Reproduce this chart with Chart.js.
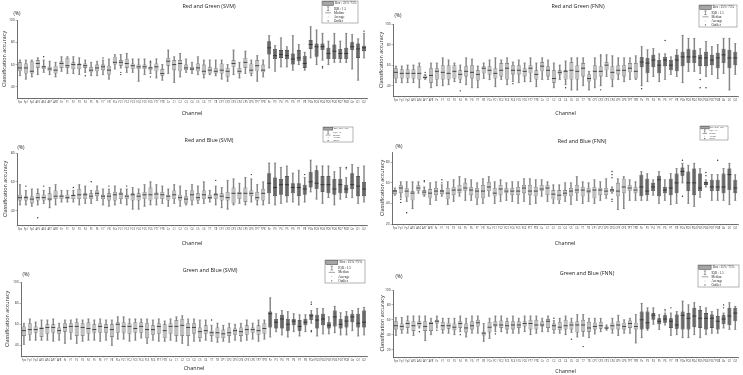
<!DOCTYPE html>
<html><head><meta charset="utf-8">
<script src="https://cdn.jsdelivr.net/npm/chart.js@4.4.1/dist/chart.umd.min.js"></script>
<style>
html,body{margin:0;padding:0;background:#fff;width:743px;height:375px;overflow:hidden;position:relative}
canvas{position:absolute}
</style></head><body>
<canvas id="c1"></canvas><canvas id="c2"></canvas><canvas id="c3"></canvas>
<canvas id="c4"></canvas><canvas id="c5"></canvas><canvas id="c6"></canvas>
<script>
// ---------------- DATA ----------------
const channels = ['Fpz','Fp1','Fp2','AF3','AF4','AF7','AF8','Fz','F1','F2','F3','F4','F5','F6','F7','F8',
  'FCz','FC1','FC2','FC3','FC4','FC5','FC6','FT7','FT8','Cz','C1','C2','C3','C4','C5','C6','T7','T8',
  'CP1','CP2','CP3','CP4','CP5','CP6','TP7','TP8','Pz','P3','P4','P5','P6','P7','P8',
  'POz','PO3','PO4','PO5','PO6','PO7','PO8','Oz','O1','O2'];
const posteriorStart = 'Pz';
const legendLabels = ['Box : 25%~75%','IQR : 1.5','Median','Average','Outlier'];

// rows: [whisker min, Q1, median, Q3, whisker max]
const redGreenSVM = [
[50,54,57,62,64],[47,52,57,61,64],[49,52,54,63,64],[51,57,61,64,66],[53,56,58,59,64],[51,54,56,58,63],[49,52,55,59,62],
[54,57,61,63,67],[52,57,59,66,67],[52,56,60,62,67],[51,56,60,61,66],[53,57,59,61,64],[50,53,55,58,62],[50,54,57,60,63],[51,55,58,60,64],[47,51,55,59,65],
[56,60,62,67,69],[57,59,62,64,69],[53,57,61,65,70],[53,56,59,61,65],[45,56,58,60,65],[51,56,58,60,65],[52,55,57,58,62],[48,54,58,61,65],[46,50,52,56,60],
[52,59,63,66,73],[44,55,60,64,67],[49,54,61,64,70],[53,55,57,60,65],[52,55,56,58,62],[51,54,57,61,67],[48,51,54,60,64],[51,52,55,58,64],[50,52,54,57,64],
[47,52,55,61,64],[45,49,54,57,60],[51,58,61,64,73],[48,52,54,57,62],[52,57,62,66,72],[50,52,55,61,64],[45,54,59,64,68],[49,53,55,60,64],
[57,69,75,81,86],[54,65,68,74,77],[58,66,69,73,84],[58,65,68,73,76],[55,60,65,70,86],[60,63,66,73,78],[55,57,61,68,71],
[66,74,78,82,94],[60,67,76,79,91],[64,73,76,79,88],[60,65,70,75,81],[62,65,72,78,88],[62,65,70,74,81],[62,65,70,75,88],
[56,73,76,80,87],[46,66,74,79,83],[66,72,75,77,88]];
const redGreenSVMOutliers = [['AF4',67],['F4',50],['F7',66],['FC1',53],['FC1',51],['FC6',63],['FC6',49],['PO4',58],['PO4',57],['O2',90]];

const redGreenFNN = [
[43,47,53,57,59],[43,47,52,56,59],[43,47,52,56,60],[43,47,52,56,60],[38,46,52,59,62],[46,47,48,50,51],[38,43,50,57,62],
[40,46,54,57,62],[40,46,53,60,67],[41,46,52,60,65],[44,47,54,60,62],[43,46,51,55,60],[41,49,54,59,67],[38,47,53,60,66],[38,45,51,55,59],[47,52,57,59,62],
[46,51,55,59,65],[39,47,52,57,67],[46,49,55,62,65],[41,46,57,62,67],[44,51,55,60,63],[43,51,55,60,65],[44,49,54,57,62],[44,52,57,60,67],[39,46,51,55,62],
[46,54,59,63,67],[46,49,55,59,65],[38,43,47,55,62],[46,51,53,55,60],[41,46,54,55,64],[36,46,55,63,67],[36,46,54,60,67],[40,49,57,62,67],[36,44,47,51,54],
[38,46,54,60,67],[40,49,54,59,69],[49,55,60,63,70],[39,46,53,59,69],[46,51,55,60,67],[44,49,55,60,67],[46,53,57,62,67],[46,47,54,62,69],
[40,58,63,68,78],[44,52,62,67,75],[49,58,65,70,76],[44,52,60,65,71],[46,59,65,68,71],[51,55,60,65,68],[49,54,65,70,75],
[43,59,68,73,89],[54,62,68,76,86],[54,62,68,75,86],[52,59,67,70,76],[49,59,67,73,83],[51,60,65,70,78],[47,57,67,72,80],
[52,62,70,76,86],[36,57,67,75,86],[51,60,67,73,81]];
const redGreenFNNOutliers = [['AF7',53],['F4',35],['FC4',42],['C4',38],['CP2',70],['CP2',36],['Pz',37],['P6',84],['PO5',46],['PO5',38],['PO6',38]];

const redBlueSVM = [
[44,47,49,51,58],[44,47,49,50,54],[43,45,48,50,55],[44,47,49,52,55],[45,47,49,51,54],[42,47,48,52,56],[44,48,50,54,58],
[46,48,50,51,54],[46,48,49,51,54],[46,48,50.5,51,54],[44,48,51,55,58],[45,48,51,52,57],[45,48,50,52,54],[47,50,52,54,57],[44,48,50,51,55],[43,47,50,52,55],
[44,47,51,53,57],[45,48,51.5,52.5,55],[44,48,50,51,55],[41,47,51,52,56],[41,47,50,52,55],[43,48,51,53,58],[44,47,51,56,60],[44,48,51.5,52.5,58],[45,48,51,53,57],
[43,47,50,51,55],[45,48,51,54,58],[43,47,49,51,57],[44,45,48,50,54],[44,47,51,54,58],[45,47,49,52,57],[45,48,51,54,60],[46,48,49,51,54],[44,48,51,52,57],
[42,47,50,52,56],[41,47,49,53,61],[44,45,52,56,62],[45,48,52,53,59],[44,46,52,56,63],[46,50,52,54,62],[44,47,49,53,58],[44,47,52,55,60],
[45,52,59,66,73],[44,50,56,63,73],[45,51,58,62,70],[46,50,58,64,71],[46,52,56,59,66],[44,50,56,59,68],[46,51,55,58,63],
[53,56,60,67,75],[48,55,59,68,71],[45,53,58,64,71],[49,52,58,64,71],[44,51,55,62,67],[48,52,58,62,70],[49,52,55,58,63],
[49,55,58,66,72],[45,50,57,64,70],[46,50,55,60,71]];
const redBlueSVMOutliers = [['Fp1',57],['AF4',57],['AF3',35],['F2',56],['F5',60],['F8',57],['FC2',57],['T8',61],['CP6',65],['P8',65],['PO8',70],['PO8',69]];

const redBlueFNN = [
[48,49,52,53,55],[46,50,55,58,61],[42,46,52,55,61],[35,43,50,52,61],[50,52,55,58,61],[47,48,51,53,56],[39,45,50,54,60],
[43,48,52,55,61],[47,49,52,53,58],[39,44,50,55,61],[42,48,53,56,63],[47,50,53,58,66],[43,52,55,60,64],[43,48,53,56,63],[39,45,52,55,60],[40,45,52,58,64],
[47,52,56,61,66],[40,47,50,55,61],[42,48,54,58,63],[43,50,52,55,60],[42,48,52,55,61],[40,48,52,56,61],[42,50,55,58,64],[39,48,52,58,64],[40,47,52,56,63],
[47,52,54,58,63],[42,48,55,58,61],[40,44,49,53,58],[40,43,48,53,58],[42,47,50,53,60],[39,47,52,55,60],[43,50,53,58,66],[40,47,53,56,61],[42,50,52,55,60],
[40,45,53,56,63],[43,48,53,55,61],[45,48,52,55,64],[50,51,53,54,56],[34,47,52,60,64],[35,50,56,64,66],[43,52,55,58,63],[43,50,53,56,61],
[43,47,56,68,71],[43,48,52,64,69],[48,52,56,60,63],[40,47,63,67,71],[43,50,53,56,63],[39,48,55,64,69],[40,50,60,69,74],
[60,67,71,75,79],[40,52,60,71,77],[37,48,60,74,79],[46,52,55,69,74],[56,58,60,61,63],[43,52,56,63,68],[43,52,56,63,68],
[43,50,56,69,74],[39,53,68,74,79],[43,50,55,63,68]];
const redBlueFNNOutliers = [['Fp1',44],['Fp1',41],['Fp2',31],['AF7',61],['AF7',62],['F1',63],['F1',60],['CP4',71],['CP4',68],['CP4',65],['CP4',44],['CP4',42],['POz',82],['POz',47],['PO8',82],['PO6',70],['PO6',67]];

const greenBlueSVM = [
[41,49,54,58,61],[45,50,55,61,65],[45,52,55,58,62],[45,48,56,57.5,64],[45,51,57,60,64],[44,52,57,60,65],[45,51,54,57,61],
[42,53,57,61,64],[46,52,58,61,64],[42,49,58,62,65],[44,49,57,61,64],[45,51,56,62,65],[45,52,55,60,64],[44,52,58,61,65],[45,52,57,60,64],[40,48,55,60,64],
[46,52,60,62,67],[46,52,58,62,67],[44,51,58,61,65],[45,52,56,62,65],[47,52,58,62,65],[42,47,55,61,65],[45,50,55,59,64],[44,51,58,61,65],[44,47,54,60,63],
[45,51,58,61,65],[44,49,58,64,67],[42,49,59,65,68],[40,49,57,61,65],[44,51,57,61,65],[44,47,53,57,64],[45,51,54,59,64],[44,49,52,54,59],[43,47,52,57,61],
[44,47,51,55,59],[43,49,52,57,61],[45,50,54,56,60],[44,49,53,57,61],[45,50,55,59,64],[46,52,55,57,61],[44,50,54,59,64],[46,51,56,61,64],
[48,57,70,72,85],[53,56,62,65,70],[50,56,65,69,73],[48,54,60,65,72],[53,59,63,65,70],[49,54,58,64,69],[53,59,62,65,69],
[61,64,68,70,73],[49,56,64,69,75],[51,59,65,70,75],[51,56,59,62,67],[52,58,67,73,77],[50,56,60,65,71],[50,57,63,68,72],
[54,62,67,70,73],[49,57,61,70,75],[50,57,62,73,76]];
const greenBlueSVMOutliers = [['T7',64],['POz',81],['POz',79],['POz',54],['POz',53]];

const greenBlueFNN = [
[39,47,52,58,63],[42,46,51,55,63],[42,49,55,59,65],[39,45,52,58,65],[49,51,55,58,65],[32,45,51,58,65],[40,45,55,57,62],
[49,55,58,60,65],[42,46,52,57,62],[42,48,52,56,62],[40,46,50,55,62],[44,49,55,58,65],[37,43,49,55,62],[42,47,52,58,65],[42,51,56,60,65],[31,39,42,44,55],
[35,43,50,57,62],[44,51,53,58,65],[44,49,53,59,65],[42,47,52,58,62],[42,47,53,58,65],[42,49,53,58,62],[44,51,55,58,65],[40,47,55,60,65],[42,47,53,60,65],
[44,51,53,58,62],[44,49,58,61,65],[42,46,52,55,59],[42,46,50,57,62],[40,47,52,60,65],[43,47,53,57,62],[37,43,53,58,67],[38,44,53,60,67],[36,44,49,57,62],
[41,47,51,56,62],[44,48,52,57,62],[46,48,49,51,53],[42,47,52,56,62],[39,47,53,58,66],[42,47,51,56,60],[42,49,55,59,62],[29,47,51,56,67],
[36,47,60,71,82],[46,48,56,71,76],[54,60,66,69,76],[47,54,58,62,67],[53,56,61,66,69],[39,49,58,62,69],[40,48,53,67,71],
[36,47,66,71,85],[36,47,62,69,80],[40,50,65,76,83],[36,49,62,73,78],[40,47,62,69,76],[42,49,62,67,71],[42,47,58,65,74],
[49,54,61,66,69],[47,53,65,76,83],[47,58,69,76,78]];
const greenBlueFNNOutliers = [['AF4',44],['Fz',46],['F4',40],['FC1',41],['C2',62],['C5',34],['T7',24],['P6',74],['P6',72],['P7',76],['Oz',80],['Oz',76]];

const ticksRG = [40,60,80,100];
const ticksRBsvm = [40,60,80];
const ticksRBfnn = [20,40,60,80];
const ticksGBsvm = [40,60,80,100];
const ticksGBfnn = [20,40,60,80,100];

// ---------------- LAYOUT / STYLE ----------------
const panels = [
 {id:'c1', title:'Red and Green (SVM)', stats:redGreenSVM, outliers:redGreenSVMOutliers, yMin:30, yMax:100, yTicks:ticksRG,
  box:{x:0,y:0,w:372,h:125}, area:{l:17,t:20,r:367,b:98}, titlePos:[209,6], pctPos:[17,14], channelY:113, yTitleX:4, legend:{x:322,y:1,w:36,h:22}},
 {id:'c2', title:'Red and Green (FNN)', stats:redGreenFNN, outliers:redGreenFNNOutliers, yMin:30, yMax:100, yTicks:ticksRG,
  box:{x:372,y:0,w:371,h:125}, area:{l:393,t:24,r:740,b:96}, titlePos:[578,6], pctPos:[398,16], channelY:113, yTitleX:381, legend:{x:699,y:5,w:38,h:22}},
 {id:'c3', title:'Red and Blue (SVM)', stats:redBlueSVM, outliers:redBlueSVMOutliers, yMin:30, yMax:80, yTicks:ticksRBsvm,
  box:{x:0,y:125,w:372,h:125}, area:{l:17,t:153,r:367,b:225}, titlePos:[209,140], pctPos:[21,148], channelY:243, yTitleX:5, legend:{x:323,y:127,w:30,h:15}},
 {id:'c4', title:'Red and Blue (FNN)', stats:redBlueFNN, outliers:redBlueFNNOutliers, yMin:20, yMax:90, yTicks:ticksRBfnn,
  box:{x:372,y:125,w:371,h:125}, area:{l:392,t:152,r:739,b:224}, titlePos:[582,141], pctPos:[399,147], channelY:243, yTitleX:382, legend:{x:700,y:126,w:28,h:14}},
 {id:'c5', title:'Green and Blue (SVM)', stats:greenBlueSVM, outliers:greenBlueSVMOutliers, yMin:30, yMax:100, yTicks:ticksGBsvm,
  box:{x:0,y:250,w:372,h:125}, area:{l:21,t:282,r:367,b:356}, titlePos:[210,270], pctPos:[26,275], channelY:368, yTitleX:7, legend:{x:325,y:260,w:40,h:23}},
 {id:'c6', title:'Green and Blue (FNN)', stats:greenBlueFNN, outliers:greenBlueFNNOutliers, yMin:10, yMax:100, yTicks:ticksGBfnn,
  box:{x:372,y:250,w:371,h:125}, area:{l:393,t:290,r:740,b:357}, titlePos:[587,273], pctPos:[399,277], channelY:371, yTitleX:382, legend:{x:698,y:265,w:41,h:22}}
];

const SANS = '"Open Sans", "DejaVu Sans", sans-serif';
const SERIF = '"Liberation Serif", serif';
const C = {
  lightFill:'#c0c0c0', lightBorder:'#6e6e6e', darkFill:'#686868', darkBorder:'#383838',
  whisker:'#858585', median:'#262626', outlier:'#2e2e2e', axis:'#4a4a4a', text:'#222222'
};
const BAR_PCT = 0.68;

const decoPlugin = {
  id:'deco',
  afterDraw(chart, args, o) {
    const p = o.panel; if (!p) return;
    const ctx = chart.ctx, ox = p.box.x, oy = p.box.y;
    ctx.save();
    ctx.fillStyle = C.text; ctx.textAlign = 'center'; ctx.textBaseline = 'middle';
    ctx.font = '5.4px ' + SANS;
    ctx.fillText(p.title, p.titlePos[0]-ox, p.titlePos[1]-oy);
    ctx.font = '4.8px ' + SANS;
    ctx.fillText('(%)', p.pctPos[0]-ox, p.pctPos[1]-oy);
    // legend box
    const L = p.legend, lx = L.x-ox, ly = L.y-oy;
    ctx.strokeStyle = '#6a6a6a'; ctx.lineWidth = 0.5;
    ctx.strokeRect(lx, ly, L.w, L.h);
    const rh = L.h/5.4, fs = rh*0.8;
    legendLabels.forEach((lab, i) => {
      const cy = ly + rh*(i + (i===0?0.6:0.9));
      const ix = lx + L.w*0.17;
      ctx.strokeStyle = '#444'; ctx.fillStyle = '#444'; ctx.lineWidth = 0.5;
      if (i===0) {
        ctx.fillStyle = '#a5a5a5';
        ctx.fillRect(lx+0.8, cy-rh*0.5, L.w*0.3, rh*1.0);
        ctx.strokeRect(lx+0.8, cy-rh*0.5, L.w*0.3, rh*1.0);
      } else if (i===1) {
        ctx.beginPath();
        ctx.moveTo(ix, cy-rh*0.45); ctx.lineTo(ix, cy+rh*0.45);
        ctx.moveTo(ix-rh*0.3, cy-rh*0.45); ctx.lineTo(ix+rh*0.3, cy-rh*0.45);
        ctx.moveTo(ix-rh*0.3, cy+rh*0.45); ctx.lineTo(ix+rh*0.3, cy+rh*0.45);
        ctx.stroke();
      } else if (i===2) {
        ctx.beginPath(); ctx.moveTo(ix-L.w*0.08, cy); ctx.lineTo(ix+L.w*0.08, cy); ctx.stroke();
      } else if (i===3) {
        ctx.beginPath(); ctx.arc(ix, cy, 0.35, 0, Math.PI*2); ctx.fill();
      } else {
        ctx.beginPath(); ctx.arc(ix, cy, 0.6, 0, Math.PI*2); ctx.fill();
      }
      ctx.fillStyle = '#1e1e1e'; ctx.textAlign = 'left';
      ctx.font = fs.toFixed(2) + 'px ' + SERIF;
      ctx.fillText(lab, lx + L.w*(i===0?0.36:0.33), cy);
    });
    ctx.restore();
  }
};

function buildPanel(p) {
  const cv = document.getElementById(p.id);
  cv.width = p.box.w; cv.height = p.box.h;
  cv.style.left = p.box.x + 'px'; cv.style.top = p.box.y + 'px';
  const ox = p.box.x, oy = p.box.y;
  const area = {l:p.area.l-ox, t:p.area.t-oy, r:p.area.r-ox, b:p.area.b-oy};
  const tFont = 5.4, lh = tFont*1.2;
  const padLeft = Math.max(0, p.yTitleX - ox - lh/2);
  const yAxisW = area.l - padLeft;
  const xAxisH = (p.channelY - oy) - area.b + lh/2;
  const padBottom = Math.max(0, p.box.h - area.b - xAxisH);
  const darkIdx = channels.indexOf(posteriorStart);
  const isDark = i => i >= darkIdx;
  const catW = (area.r - area.l) / channels.length;
  const halfBox = catW * BAR_PCT / 2;

  const datasets = [
    { type:'bar', data:p.stats.map(s => [s[0], s[4]]), backgroundColor:C.whisker,
      barThickness:0.8, grouped:false, order:6 },
    { type:'line', showLine:false, order:5,
      data: channels.flatMap((c,i) => [{x:c, y:p.stats[i][0]}, {x:c, y:p.stats[i][4]}]),
      pointStyle:'line', pointRadius:1.2, pointBorderWidth:0.6, pointBorderColor:C.whisker },
    { type:'bar', data:p.stats.map(s => [s[1], s[3]]), order:4, grouped:false,
      backgroundColor: channels.map((c,i) => isDark(i) ? C.darkFill : C.lightFill),
      borderColor: channels.map((c,i) => isDark(i) ? C.darkBorder : C.lightBorder),
      borderWidth:0.6, borderSkipped:false, barPercentage:BAR_PCT, categoryPercentage:1 },
    { type:'line', showLine:false, order:2,
      data: channels.map((c,i) => ({x:c, y:p.stats[i][2]})),
      pointStyle:'line', pointRadius:halfBox, pointBorderWidth:0.8, pointBorderColor:C.median },
    { type:'line', showLine:false, order:1,
      data: p.outliers.map(o => ({x:o[0], y:o[1]})),
      pointStyle:'circle', pointRadius:0.7, pointBorderWidth:0, pointBackgroundColor:C.outlier }
  ];

  new Chart(cv, {
    type:'bar',
    data:{ labels:channels, datasets },
    plugins:[decoPlugin],
    options:{
      responsive:false, animation:false, events:[], devicePixelRatio:1,
      layout:{ padding:{ left:padLeft, top:area.t, right:p.box.w-area.r, bottom:padBottom } },
      plugins:{ legend:{display:false}, tooltip:{enabled:false}, title:{display:false}, deco:{panel:p} },
      scales:{
        x:{ type:'category', offset:true,
          grid:{ display:true, drawOnChartArea:false, tickLength:1.5, color:'#666', lineWidth:0.4 },
          border:{ display:true, color:C.axis, width:0.8 },
          ticks:{ autoSkip:false, maxRotation:0, minRotation:0, padding:0.8, color:'#333',
                  font:{ size:2.6, family:SANS } },
          title:{ display:true, text:'Channel', color:C.text, padding:0, font:{ size:tFont, family:SANS } },
          afterFit: s => { s.height = xAxisH; } },
        y:{ type:'linear', min:p.yMin, max:p.yMax,
          afterBuildTicks: s => { s.ticks = p.yTicks.map(v => ({value:v})); },
          grid:{ display:true, drawOnChartArea:false, tickLength:1.5, color:'#666', lineWidth:0.5 },
          border:{ display:true, color:C.axis, width:0.8 },
          ticks:{ padding:0.8, color:'#333', font:{ size:3.4, family:SANS } },
          title:{ display:true, text:'Classification accuracy', color:C.text, padding:0, font:{ size:tFont, family:SANS } },
          afterFit: s => { s.width = yAxisW; } }
      }
    }
  });
}
panels.forEach(buildPanel);
</script>
</body></html>
